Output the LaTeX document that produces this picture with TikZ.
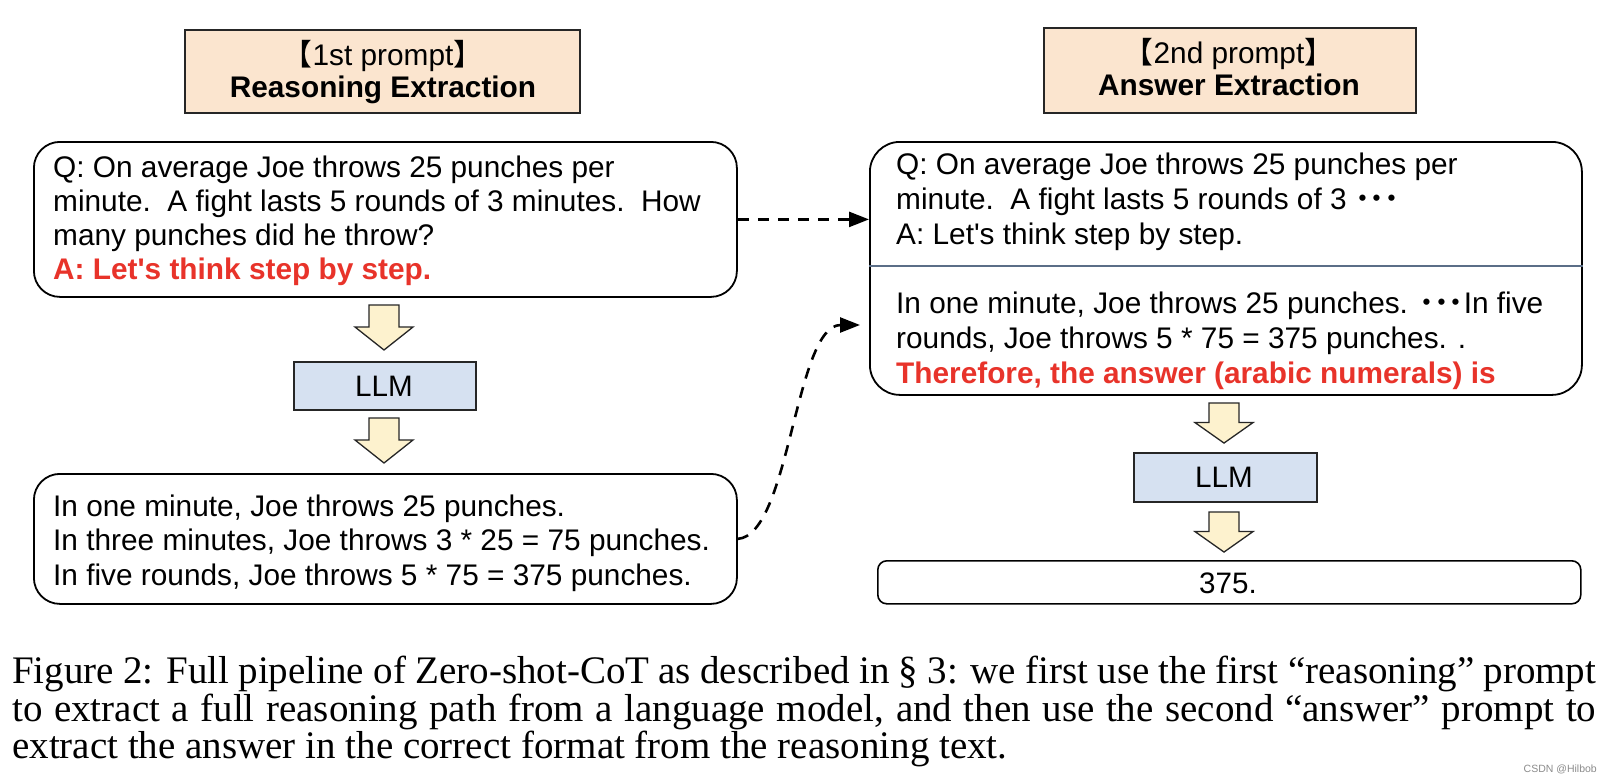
\documentclass[tikz,border=0pt]{standalone}
\usepackage{fontspec}
\setmainfont{Liberation Serif}
\newfontfamily\arialf{Liberation Sans}
\newfontfamily\cjkf{Noto Sans CJK SC}
\usetikzlibrary{arrows.meta}
\definecolor{peach}{HTML}{FBE5CF}
\definecolor{llmblue}{HTML}{D6E1F1}
\definecolor{arrowyel}{HTML}{FDF2CE}
\definecolor{redtext}{HTML}{E8332A}
\definecolor{divider}{HTML}{5B6E87}
\tikzset{
  bigbox/.style={draw=black, line width=1.8pt, rounded corners=26pt, inner sep=0pt, anchor=north west},
  hdrbox/.style={draw=black!85, fill=peach, line width=1.8pt, inner sep=0pt, anchor=north west},
  llmbox/.style={draw=black!85, fill=llmblue, line width=1.5pt, inner sep=0pt, anchor=north west},
  bodytxt/.style={anchor=base west, inner sep=0pt, font=\arialf\fontsize{29.8}{34}\selectfont},
  redtxt/.style={anchor=base west, inner sep=0pt, text=redtext, font=\arialf\bfseries\fontsize{29.8}{34}\selectfont},
  hdrtxt/.style={anchor=base, inner sep=0pt, font=\arialf\fontsize{29.8}{30}\selectfont},
  hdrbold/.style={anchor=base, inner sep=0pt, font=\arialf\bfseries\fontsize{29.8}{30}\selectfont},
  centertxt/.style={anchor=base, inner sep=0pt, font=\arialf\fontsize{29.6}{30}\selectfont},
  captxt/.style={anchor=base west, inner sep=0pt, font=\fontsize{39}{38}\selectfont},
  dashconn/.style={line width=2.6pt, dash pattern=on 11pt off 9pt, -{Triangle[length=20pt,width=15pt]}},
  downarrow/.pic={\filldraw[fill=arrowyel, draw=black!85, line width=1.3pt, line join=miter]
     (-15,0) -- (15,0) -- (15,22) -- (29,22) -- (0,45) -- (-29,22) -- (-15,22) -- cycle;}
}
\newcommand{\tdots}{{\cjkf\bfseries ･･･}}
\begin{document}
\begin{tikzpicture}[x=1pt,y=-1pt]
\fill[white] (0,0) rectangle (1612,782);
\useasboundingbox (0,0) rectangle (1612,782);

% header boxes
\node[hdrbox, minimum width=395pt, minimum height=83pt] (hdr1) at (184,29) {};
\node[hdrtxt] (hdr1a) at (383,65) {{\cjkf 【}1st prompt{\cjkf 】}};
\node[hdrbold] (hdr1b) at (383,97) {Reasoning Extraction};

\node[hdrbox, minimum width=372pt, minimum height=85pt] (hdr2) at (1043,27) {};
\node[hdrtxt] (hdr2a) at (1229,63) {{\cjkf 【}2nd prompt{\cjkf 】}};
\node[hdrbold] (hdr2b) at (1229,95) {Answer Extraction};

% left question box
\node[bigbox, minimum width=703pt, minimum height=155pt] (qbox) at (33,141) {};
\node[bodytxt] (q1) at (53,177) {Q: On average Joe throws 25 punches per};
\node[bodytxt] (q2) at (53,211) {minute.\ \ A fight lasts 5 rounds of 3 minutes.\ \ How};
\node[bodytxt] (q3) at (53,245) {many punches did he throw?};
\node[redtxt] (q4) at (53,279) {A: Let\textquotesingle s think step by step.};

% left pipeline
\pic (la1) at (384,305) {downarrow};
\node[llmbox, minimum width=182pt, minimum height=48pt] (llm1) at (293,361) {};
\node[centertxt] (llm1t) at (384,396) {LLM};
\pic (la2) at (384,418) {downarrow};

% left reasoning box
\node[bigbox, minimum width=703pt, minimum height=130pt] (blbox) at (33,473) {};
\node[bodytxt] (b1) at (53,516) {In one minute, Joe throws 25 punches.};
\node[bodytxt] (b2) at (53,550) {In three minutes, Joe throws 3 * 25 = 75 punches.};
\node[bodytxt] (b3) at (53,585) {In five rounds, Joe throws 5 * 75 = 375 punches.};

% right box
\node[bigbox, rounded corners=30pt, minimum width=712pt, minimum height=253pt] (rbox) at (869,141) {};
\draw[divider, line width=1.5pt] (rbox.west |- 0,266) -- (rbox.east |- 0,266);
\node[bodytxt] (r1) at (896,174) {Q: On average Joe throws 25 punches per};
\node[bodytxt] (r2) at (896,209) {minute.\ \ A fight lasts 5 rounds of 3 \tdots};
\node[bodytxt] (r3) at (896,244) {A: Let\textquotesingle s think step by step.};
\node[bodytxt] (r4) at (896,313) {In one minute, Joe throws 25 punches. \tdots In five};
\node[bodytxt] (r5) at (896,348) {rounds, Joe throws 5 * 75 = 375 punches. .};
\node[redtxt] (r6) at (896,383) {Therefore, the answer (arabic numerals) is};

% right pipeline
\pic[yscale=0.89] (ra1) at (1224,403) {downarrow};
\node[llmbox, minimum width=183pt, minimum height=49pt] (llm2) at (1133,452) {};
\node[centertxt] (llm2t) at (1224,487) {LLM};
\pic[yscale=0.89] (ra2) at (1224,512) {downarrow};
\node[draw=black, line width=1.6pt, rounded corners=9pt, inner sep=0pt, anchor=north west,
      minimum width=703pt, minimum height=43pt] (ansbox) at (877,560) {};
\node[centertxt] (anst) at (1228,593) {375.};

% dashed connectors
\draw[dashconn] (qbox.east) -- (qbox.east -| rbox.west);
\coordinate (ctip) at (860,325);
\draw[dashconn] (blbox.east) .. controls (790,535) and (795,325) .. (ctip);

% caption
\node[captxt] (cap1) at (12,683) {\makebox[1584pt][s]{Figure 2: Full pipeline of Zero-shot-CoT as described in § 3: we first use the first “reasoning” prompt}};
\node[captxt] (cap2) at (12,721) {\makebox[1584pt][s]{to extract a full reasoning path from a language model, and then use the second “answer” prompt to}};
\node[captxt] (cap3) at (12,758) {extract the answer in the correct format from the reasoning text.};

\node[anchor=base east, inner sep=0pt, text=black!45, font=\arialf\fontsize{10.5}{11}\selectfont] (wm) at (1597,772) {CSDN @Hilbob};
\end{tikzpicture}
\end{document}
